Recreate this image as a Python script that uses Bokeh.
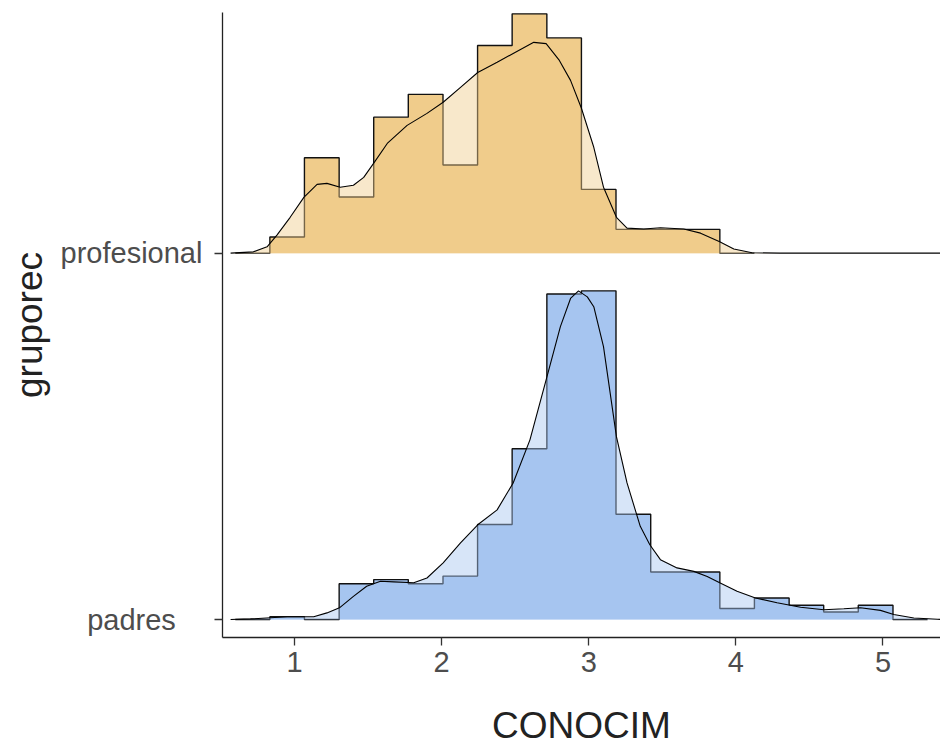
from bokeh.plotting import figure
from bokeh.models import Range1d, FixedTicker, CustomLabelingPolicy
from bokeh.layouts import row
from bokeh.core.properties import value
from bokeh.embed import file_html
from bokeh.resources import INLINE
import numpy as np

# ---- data ----
groups = ["padres", "profesional"]
group_pos = [0, 1]
colors_hist = ["#A6C5F0", "#F0CC8B"]

bin_edges = [0.832, 1.067, 1.303, 1.538, 1.773, 2.009, 2.244, 2.479, 2.715, 2.950,
             3.185, 3.421, 3.656, 3.891, 4.126, 4.362, 4.597, 4.832, 5.068]
bin_pad = [0.597, 5.303]

hist_padres = [0.009, 0.000, 0.113, 0.126, 0.113, 0.137, 0.300, 0.539, 1.027, 1.037,
               0.332, 0.150, 0.150, 0.035, 0.068, 0.045, 0.024, 0.045]
hist_profesional = [0.051, 0.301, 0.177, 0.429, 0.501, 0.278, 0.655, 0.755, 0.679, 0.201,
                    0.075, 0.075, 0.075]

dens_x_padres = [0.565, 0.70, 0.95, 1.13, 1.22, 1.305, 1.40, 1.49, 1.584, 1.674, 1.81, 1.90,
                 2.01, 2.128, 2.245, 2.377, 2.486, 2.60, 2.71, 2.807, 2.876, 2.93, 2.99,
                 3.034, 3.10, 3.188, 3.26, 3.35, 3.415, 3.487, 3.60, 3.714, 3.805, 3.89,
                 4.008, 4.133, 4.28, 4.44, 4.598, 4.734, 4.847, 4.983, 5.073, 5.21, 5.37, 5.42]
dens_y_padres = [0.0, 0.002, 0.009, 0.009, 0.021, 0.037, 0.073, 0.105, 0.121, 0.119, 0.116,
                 0.131, 0.179, 0.242, 0.299, 0.346, 0.431, 0.567, 0.756, 0.924, 1.013, 1.037,
                 1.018, 0.987, 0.861, 0.577, 0.431, 0.294, 0.236, 0.189, 0.163, 0.152, 0.136,
                 0.116, 0.089, 0.068, 0.053, 0.039, 0.031, 0.034, 0.037, 0.029, 0.016, 0.005,
                 0.001, 0.0]

dens_x_profesional = [0.565, 0.72, 0.813, 0.88, 0.97, 1.063, 1.153, 1.22, 1.31, 1.40, 1.47,
                      1.543, 1.63, 1.765, 1.90, 2.01, 2.128, 2.245, 2.377, 2.486, 2.626, 2.71,
                      2.80, 2.876, 2.95, 3.034, 3.10, 3.188, 3.26, 3.374, 3.487, 3.646, 3.76,
                      3.89, 3.986, 4.11, 4.30, 5.42]
dens_y_profesional = [0.0, 0.004, 0.020, 0.057, 0.113, 0.176, 0.217, 0.220, 0.208, 0.214,
                      0.239, 0.287, 0.346, 0.403, 0.441, 0.476, 0.523, 0.570, 0.602, 0.630,
                      0.665, 0.661, 0.608, 0.545, 0.457, 0.334, 0.208, 0.113, 0.079, 0.076,
                      0.080, 0.076, 0.063, 0.036, 0.013, 0.001, 0.0, 0.0]

x_ticks = [1, 2, 3, 4, 5]
ridge_scale = 0.865  # density units -> ridge spacing units

H = 748
TOP, BOTTOM = 12, 110
LEFT_W = 202

yr = Range1d(-0.049, 1.6567)
xr = Range1d(0.51, 5.391)

# ---- left panel: centred group labels and y title ----
pl = figure(width=LEFT_W, height=H, x_range=Range1d(0, LEFT_W), y_range=yr,
            output_backend="svg", toolbar_location=None,
            x_axis_location=None, y_axis_location=None,
            min_border_left=0, min_border_right=0, min_border_top=TOP, min_border_bottom=BOTTOM)
pl.outline_line_color = None
pl.xgrid.grid_line_color = None
pl.ygrid.grid_line_color = None
pl.text(x=[131] * len(groups), y=group_pos, text=groups, text_align="center",
        text_baseline="middle", text_font=value("Liberation Sans"), text_font_size="29px",
        text_color="#4D4D4D")
pl.text(x=[29], y=[(yr.start + yr.end) / 2], text=["gruporec"], angle=np.pi / 2,
        text_align="center", text_baseline="middle", text_font=value("Liberation Sans"),
        text_font_size="37px", text_color="#222222")

# ---- main panel ----
p = figure(width=940 - LEFT_W, height=H, x_range=xr, y_range=yr,
           output_backend="svg", toolbar_location=None,
           min_border_left=20, min_border_right=0, min_border_top=TOP, min_border_bottom=BOTTOM)
p.outline_line_color = None
p.xgrid.grid_line_color = None
p.ygrid.grid_line_color = None

hists = [hist_padres, hist_profesional]
dx = [dens_x_padres, dens_x_profesional]
dy = [dens_y_padres, dens_y_profesional]

for gi in range(2):
    base = group_pos[gi]
    h = np.array(hists[gi]) * ridge_scale + base
    n = len(h)
    edges = bin_edges[:n + 1]
    p.varea_step(x=edges, y1=[base] * (n + 1), y2=list(h) + [base], step_mode="after",
                 fill_color=colors_hist[gi], fill_alpha=1.0)
    pad_r = bin_pad[1] if gi == 0 else edges[-1] + (bin_edges[1] - bin_edges[0])
    sx = [bin_pad[0]] + list(edges) + [pad_r]
    sy = [base] + list(h) + [base, base]
    p.step(x=sx, y=sy, mode="after", line_color="#111111", line_width=1.4)

for gi in range(2):
    base = group_pos[gi]
    yy = np.array(dy[gi]) * ridge_scale + base
    p.varea(x=dx[gi], y1=[base] * len(yy), y2=yy, fill_color=colors_hist[gi], fill_alpha=0.45)
    p.line(x=dx[gi], y=yy, line_color="black", line_width=1.1)

p.xaxis.ticker = FixedTicker(ticks=x_ticks)
p.yaxis.ticker = FixedTicker(ticks=group_pos)
p.xaxis.axis_label = "CONOCIM"
for ax in (p.xaxis, p.yaxis):
    ax.axis_line_color = "#222222"
    ax.axis_line_width = 1.3
    ax.major_tick_line_color = "#333333"
    ax.major_tick_line_width = 1.3
    ax.major_tick_out = 8
    ax.major_tick_in = 0
    ax.minor_tick_line_color = None
    ax.major_label_text_font = "Liberation Sans"
    ax.major_label_text_font_size = "29px"
    ax.major_label_text_color = "#4D4D4D"
    ax.axis_label_text_font = "Liberation Sans"
    ax.axis_label_text_font_size = "37px"
    ax.axis_label_text_font_style = "normal"
    ax.axis_label_text_color = "#222222"
p.xaxis.major_label_standoff = 6
p.xaxis.axis_label_standoff = 30
# y labels are drawn centred in the left panel; the axis keeps only line and ticks
p.yaxis.major_label_standoff = 0
p.yaxis.axis_label_standoff = 0
p.yaxis.major_label_overrides = {0: "", 1: ""}
p.yaxis.major_label_policy = CustomLabelingPolicy(code="return []")

layout = row(pl, p)
open("out.html", "w").write(file_html(layout, INLINE))
